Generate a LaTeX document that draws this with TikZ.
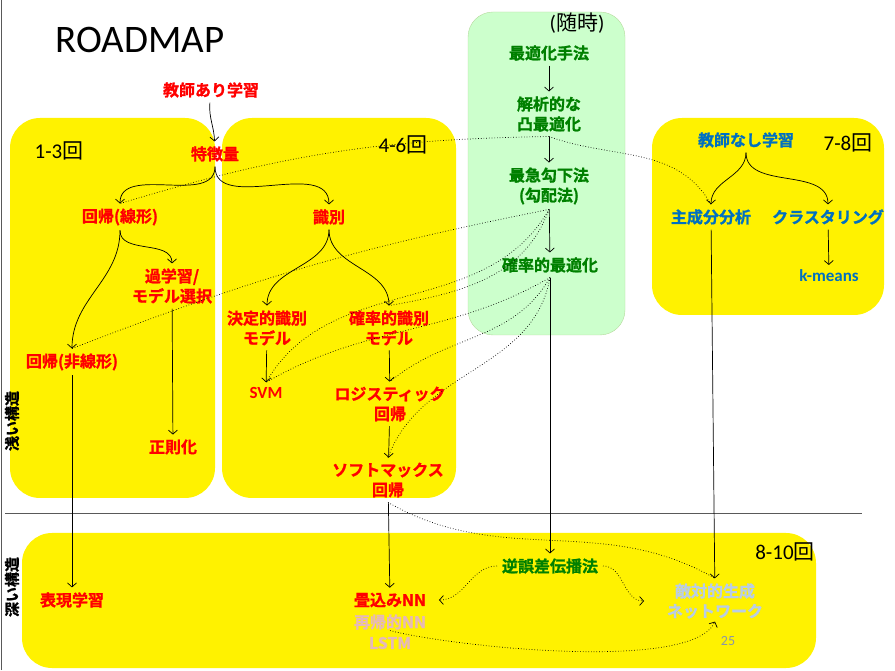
\documentclass[tikz,border=0pt]{standalone}
\usepackage{fontspec}
\setmainfont{Carlito}
\newfontfamily\jp{Noto Sans CJK JP}[BoldFont={Noto Sans CJK JP Bold},BoldFeatures={FakeBold=1.2}]
\usetikzlibrary{arrows.meta}
\definecolor{lgreen}{HTML}{CCFFCC}
\definecolor{dgreen}{HTML}{008000}
\definecolor{mblue}{HTML}{0070C0}
\definecolor{pinkish}{HTML}{E6B9B8}
\definecolor{paleblue}{HTML}{B9CDE5}
\definecolor{boxline}{HTML}{B5D99C}
\definecolor{pagegray}{HTML}{8A96A8}

\begin{document}
\begin{tikzpicture}
    [
    x=1pt, y=1pt,
    lbl/.style={font=\jp\bfseries\fontsize{16}{20}\selectfont,align=center,inner sep=0pt,outer sep=5pt},
    sv/.style={lbl,text=red},
    opt/.style={lbl,text=dgreen},
    usv/.style={lbl,text=mblue},
    lat/.style={font=\bfseries\fontsize{17}{20}\selectfont,inner sep=0pt,outer sep=5pt},
    term/.style={font=\fontsize{21}{24}\selectfont,inner sep=0pt},
    depth/.style={rotate=90,font=\jp\bfseries\fontsize{15}{18}\selectfont,inner sep=0pt},
    area/.style={fill=yellow,rounded corners=30pt},
    arr/.style={-{Straight Barb[length=4pt,width=9pt]},line width=0.7pt},
    link/.style={dotted,line width=0.7pt}
    ]
    \useasboundingbox (0,0) rectangle (895,670);
    % areas
    \fill [area] (10,172) rectangle (215,552);
    \fill [area] (222,172) rectangle (456,552);
    \fill [area] (652,355) rectangle (884,552);
    \fill [area] (22,2) rectangle (816,137);
    \filldraw [fill=lgreen,draw=boxline,rounded corners=25pt] (468,335) rectangle (625,658);
    \draw [gray!70!black,line width=1pt] (1,0) -- (1,670);
    \draw [gray!70!black,line width=0.8pt] (5,157) -- (862,157);

    \node (title) at (140,630) [font=\fontsize{39}{44}\selectfont] {ROADMAP};
    \node (t1) at (59,519) [term] {1-3{\jp 回}};
    \node (t2) at (403,525) [term] {4-6{\jp 回}};
    \node (t3) at (848,527) [term] {7-8{\jp 回}};
    \node (t4) at (785,118) [term] {8-10{\jp 回}};
    \node (any) at (577,647) [term] {({\jp 随時})};
    \node (shallow) at (12,249) [depth] {浅い構造};
    \node (deep) at (12,83) [depth] {深い構造};

    % supervised
    \node (sup) at (211,580) [sv] {教師あり学習};
    \node (feat) at (215,516) [sv] {特徴量};
    \node (lin) at (120,453) [sv] {回帰(線形)};
    \node (cls) at (329,453) [sv] {識別};
    \node (over) at (172,384) [sv] {過学習/\\モデル選択};
    \node (nonlin) at (72,308) [sv] {回帰(非線形)};
    \node (reg) at (173,223) [sv] {正則化};
    \node (det) at (267,342) [sv] {決定的識別\\モデル};
    \node (prob) at (389,342) [sv] {確率的識別\\モデル};
    \node (svm) at (266,277) [lat,text=red] {SVM};
    \node (logi) at (390,266) [sv] {ロジスティック\\回帰};
    \node (soft) at (388,190) [sv] {ソフトマックス\\回帰};

    % optimisation
    \node (opt) at (549,617) [opt] {最適化手法};
    \node (cvx) at (549,556) [opt] {解析的な\\凸最適化};
    \node (sd) at (549,484) [opt] {最急勾下法\\(勾配法)};
    \node (so) at (550,405) [opt] {確率的最適化};

    % unsupervised
    \node (unsup) at (746,530) [usv] {教師なし学習};
    \node (pca) at (711,453) [usv] {主成分分析};
    \node (clu) at (828,453) [usv] {クラスタリング};
    \node (km) at (829,394) [lat,text=mblue] {k-means};

    % deep
    \node (rep) at (72,70) [sv] {表現学習};
    \node (cnn) at (390,70) [sv] {畳込みNN};
    \node (rnn) at (390,48) [lbl,text=pinkish] {再帰的NN};
    \node (lstm) at (390,27) [lbl,text=pinkish] {LSTM};
    \node (bp) at (550,104) [opt] {逆誤差伝播法};
    \node (gan) at (715,69) [lbl,text=paleblue] {敵対的生成\\ネットワーク};
    \node (page) at (728,29) [font=\fontsize{14}{16}\selectfont,text=pagegray] {25};

    \draw [arr] (sup) to [out=-95,in=92] (feat);
    \draw [arr] (feat.south) to [out=-90,in=90] (lin.north);
    \draw [arr] (feat.south) to [out=-90,in=90] (cls.north);
    \draw [arr] (lin.south) to [out=-90,in=90] (over.north);
    \draw [arr] (lin.south) to [out=-90,in=90] (nonlin.north);
    \draw [arr] (over) to (reg);
    \draw [arr] (nonlin) to (rep);
    \draw [arr] (cls.south) to [out=-90,in=90] (det.north);
    \draw [arr] (cls.south) to [out=-90,in=90] (prob.north);
    \draw [arr] (det) to (svm);
    \draw [arr] (prob) to (logi);
    \draw [arr] (logi) to (soft);
    \draw [arr] (soft) to (cnn);
    \draw [arr] (opt) to (cvx);
    \draw [arr] (cvx) to (sd);
    \draw [arr] (sd) to (so);
    \draw [arr] (so) to (bp);
    \draw [arr] (unsup.south) to [out=-90,in=90] (pca.north);
    \draw [arr] (unsup.south) to [out=-90,in=90] (clu.north);
    \draw [arr] (clu) to (km);
    \draw [arr] (pca) to (gan);

    \draw [link] (cvx.south) to [bend right=8] (lin.north);
    \draw [link] (cvx.south) to [out=-20,in=120] (pca.north);
    \draw [link] (sd.south) to [bend right=5] (nonlin.north);
    \draw [link] (sd.south) to [out=-110,in=10] (prob.north);
    \draw [link] (sd.south) to [out=-120,in=60] (svm.north);
    \draw [link] (so.south) to [out=-150,in=30] (svm.north);
    \draw [link] (so.south) to [out=-120,in=40] (logi.north);
    \draw [link] (so.south) to [out=-100,in=70] (soft.north);
    \draw [link] (soft.south) to [out=-30,in=150] (gan.north);
    \draw [link,arr] (bp.west) to [out=180,in=0] ([xshift=8pt]cnn.east);
    \draw [link,arr] (bp.east) to [out=0,in=180] ([xshift=-18pt]gan.west);
    \draw [link,arr] ([yshift=4pt]rnn.south) to [out=-15,in=-115,looseness=0.45] ([yshift=2pt]gan.south);
  \end{tikzpicture}
\end{document}
